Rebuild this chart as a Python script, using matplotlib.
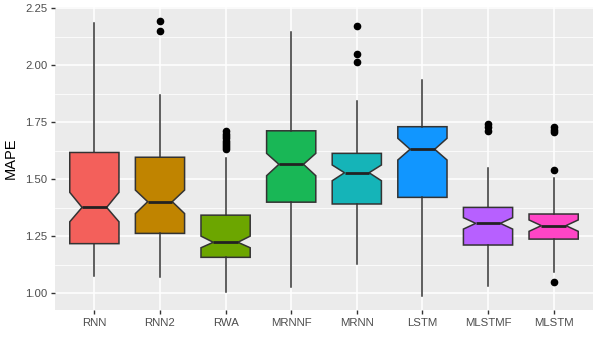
import numpy as np
import matplotlib.pyplot as plt
from matplotlib.ticker import MultipleLocator

plt.rcParams['font.family'] = ['Liberation Sans', 'DejaVu Sans']

# --- values --- #
models  = ['RNN', 'RNN2', 'RWA', 'MRNNF', 'MRNN', 'LSTM', 'MLSTMF', 'MLSTM']
whislo  = [1.077, 1.070, 1.007, 1.028, 1.129, 0.990, 1.033, 1.092]
q1      = [1.218, 1.263, 1.158, 1.400, 1.392, 1.421, 1.212, 1.238]
cilo    = [1.314, 1.350, 1.200, 1.516, 1.494, 1.585, 1.282, 1.272]
median  = [1.377, 1.402, 1.224, 1.566, 1.529, 1.632, 1.307, 1.297]
cihi    = [1.443, 1.453, 1.251, 1.614, 1.563, 1.680, 1.332, 1.322]
q3      = [1.618, 1.597, 1.343, 1.713, 1.614, 1.731, 1.377, 1.348]
whishi  = [2.187, 1.870, 1.592, 2.145, 1.843, 1.936, 1.551, 1.507]
outliers = [
    [],
    [2.194, 2.149],
    [1.71, 1.70, 1.69, 1.68, 1.67, 1.66, 1.65, 1.64, 1.633],
    [],
    [2.174, 2.051, 2.013],
    [],
    [1.742, 1.728, 1.713],
    [1.731, 1.718, 1.709, 1.541, 1.048],
]
colors = ['#F3605B', '#C08400', '#6CA600', '#19B756', '#15B4B8',
          '#1196FF', '#B760FF', '#FF45C6']

stats = []
for i, name in enumerate(models):
    stats.append(dict(label=name, whislo=whislo[i], q1=q1[i], cilo=cilo[i],
                      med=median[i], cihi=cihi[i], q3=q3[i], whishi=whishi[i],
                      fliers=np.array(outliers[i])))

fig = plt.figure(figsize=(6, 3.5), dpi=100)
ax = fig.add_axes([55/600, 1 - 310/350, 538/600, 303/350])
ax.set_facecolor('#EBEBEB')

edge = '#333333'
bp = ax.bxp(stats, positions=range(1, len(models) + 1), widths=0.75,
            shownotches=True, showcaps=False, patch_artist=True,
            boxprops=dict(edgecolor=edge, linewidth=1.1),
            whiskerprops=dict(color=edge, linewidth=1.1),
            medianprops=dict(color='#222222', linewidth=2.0),
            flierprops=dict(marker='o', markerfacecolor='black',
                            markeredgecolor='black', markersize=4.5))
for patch, c in zip(bp['boxes'], colors):
    patch.set_facecolor(c)

ax.set_xlim(0.4, 8.6)
ax.set_ylim(0.927, 2.256)
ax.yaxis.set_major_locator(MultipleLocator(0.25))
ax.yaxis.set_minor_locator(MultipleLocator(0.125))
ax.set_yticks(np.arange(1.0, 2.26, 0.25))
ax.set_yticklabels([f'{v:.2f}' for v in np.arange(1.0, 2.26, 0.25)])
ax.set_xticks(range(1, len(models) + 1))
ax.set_xticklabels(models)

ax.grid(which='major', color='white', linewidth=1.1)
ax.grid(which='minor', axis='y', color='white', linewidth=0.55)
ax.set_axisbelow(True)
for s in ax.spines.values():
    s.set_visible(False)

ax.tick_params(which='major', length=3, width=1, color=edge,
               labelsize=8.2, labelcolor='#4D4D4D', pad=2.5)
ax.tick_params(which='minor', length=0)
ax.set_ylabel('MAPE', fontsize=10.5, color='black', labelpad=5)

fig.savefig('out.png', dpi=100)
